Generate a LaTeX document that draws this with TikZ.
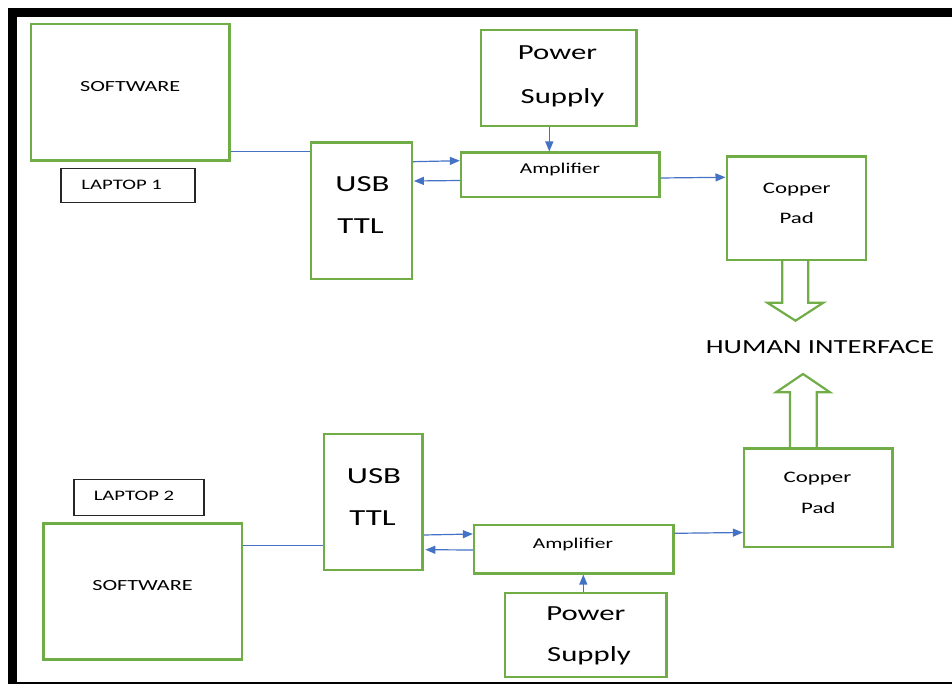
\documentclass[tikz,border=0pt]{standalone}
\usepackage{fontspec}
\setmainfont[FakeStretch=1.43]{Carlito}
\usetikzlibrary{arrows.meta}
\definecolor{gr}{RGB}{112,173,71}
\definecolor{bl}{RGB}{68,114,196}
\newcommand{\fsz}[1]{\fontsize{#1pt}{#1pt}\selectfont}
\tikzset{
  gbox/.style={draw=gr, line width=2.4pt, inner sep=0pt, fill=white},
  kbox/.style={draw=black!85, line width=1.3pt, inner sep=0pt},
  txt/.style={inner sep=0pt, anchor=base, text=black},
  conn/.style={draw=bl, line width=1.2pt},
  arr/.style={conn, -{Triangle[length=10pt,width=8pt]}},
  hollow/.style={draw=gr, line width=2.2pt, line join=miter}
}
\begin{document}
\begin{tikzpicture}[x=1pt,y=-1pt]
\useasboundingbox (0,0) rectangle (952,684);
% frame
\fill[black] (8.3,8.3) rectangle (952,17);
\fill[black] (8.3,8.3) rectangle (17,684);
\fill[black] (8.3,681.5) rectangle (952,684);

% ---------- upper chain ----------
\node[gbox, minimum width=198.3pt, minimum height=136.7pt] (sw1) at (130.2,92.3) {};
\node[txt, font=\fsz{15.5}] (sw1t) at (130.2,91.7) {SOFTWARE};
\node[kbox, minimum width=134pt, minimum height=34pt] (lp1) at (128,185.3) {};
\node[txt, font=\fsz{14.5}] (lp1t) at (121.7,189.5) {LAPTOP 1};
\node[gbox, minimum width=101pt, minimum height=136.3pt] (usb1) at (361.2,210.8) {};
\node[txt, font=\fsz{23}] (usb1a) at (362.5,191.7) {USB};
\node[txt, font=\fsz{23}] (usb1b) at (360.5,233.3) {TTL};
\node[gbox, minimum width=155.7pt, minimum height=96pt] (ps1) at (558.8,78) {};
\node[txt, font=\fsz{21.5}] (ps1a) at (557.5,60) {Power};
\node[txt, font=\fsz{21.5}] (ps1b) at (562.5,103.3) {Supply};
\node[gbox, minimum width=198.3pt, minimum height=44.6pt] (amp1) at (560.2,175) {};
\node[txt, font=\fsz{15}] (amp1t) at (560,174) {Amplifier};
\node[gbox, minimum width=139pt, minimum height=103.3pt] (cp1) at (796.2,208.3) {};
\node[txt, font=\fsz{16}] (cp1a) at (796.7,193.3) {Copper};
\node[txt, font=\fsz{16}] (cp1b) at (796.7,224) {Pad};

\draw[conn, line width=1pt] (sw1.east |- 0,151.7) -- (usb1.west |- 0,151.7);
\draw[arr] (usb1.east |- 0,161.7) -- (amp1.west |- 0,160.7);
\draw[arr] (amp1.west |- 0,180.5) -- ([xshift=1pt]usb1.east |- 0,181);
\draw[arr] (ps1.south -| 549.3,0) -- (amp1.north -| 549.3,0);
\draw[arr] (amp1.east |- 0,178) -- (cp1.west |- 0,177.3);

\draw[hollow] (cp1.south -| 782.3,0) -- (782.3,302.7) -- (767.3,302.7) -- (795.5,320.7)
  -- (823.3,302.7) -- (808.3,302.7) -- (cp1.south -| 808.3,0);

\node[txt, font=\fsz{20}] (hi) at (820,353.3) {HUMAN INTERFACE};

% ---------- lower chain ----------
\node[gbox, minimum width=148.3pt, minimum height=98.4pt] (cp2) at (818.2,497.5) {};
\node[txt, font=\fsz{16}] (cp2a) at (817.5,482.7) {Copper};
\node[txt, font=\fsz{16}] (cp2b) at (818.3,513.3) {Pad};

\draw[hollow] (cp2.north -| 790,0) -- (790,392.3) -- (776,392.3) -- (803,374)
  -- (830,392.3) -- (816.7,392.3) -- (cp2.north -| 816.7,0);

\node[kbox, minimum width=130pt, minimum height=36pt] (lp2) at (139,497.3) {};
\node[txt, font=\fsz{14.5}] (lp2t) at (134,500.7) {LAPTOP 2};
\node[gbox, minimum width=198.4pt, minimum height=136pt] (sw2) at (142.5,591.3) {};
\node[txt, font=\fsz{15.5}] (sw2t) at (142.5,590.7) {SOFTWARE};
\node[gbox, minimum width=98.7pt, minimum height=136pt] (usb2) at (373.3,502) {};
\node[txt, font=\fsz{23}] (usb2a) at (374,483.5) {USB};
\node[txt, font=\fsz{23}] (usb2b) at (372.5,525.5) {TTL};
\node[gbox, minimum width=199.3pt, minimum height=48.3pt] (amp2) at (573.7,549.2) {};
\node[txt, font=\fsz{15}] (amp2t) at (573,548.3) {Amplifier};
\node[gbox, minimum width=161.7pt, minimum height=84pt] (ps2) at (585.8,634.7) {};
\node[txt, font=\fsz{21.5}] (ps2a) at (585.8,620) {Power};
\node[txt, font=\fsz{21.5}] (ps2b) at (589,661.7) {Supply};

\draw[conn, line width=1pt] (sw2.east |- 0,545) -- (usb2.west |- 0,545);
\draw[arr] (usb2.east |- 0,535) -- (amp2.west |- 0,534);
\draw[arr] (amp2.west |- 0,550) -- ([xshift=1.5pt]usb2.east |- 0,549.7);
\draw[arr] (ps2.north -| 583.3,0) -- (amp2.south -| 583.3,0);
\draw[arr] (amp2.east |- 0,533.3) -- (cp2.west |- 0,532.5);
\end{tikzpicture}
\end{document}
